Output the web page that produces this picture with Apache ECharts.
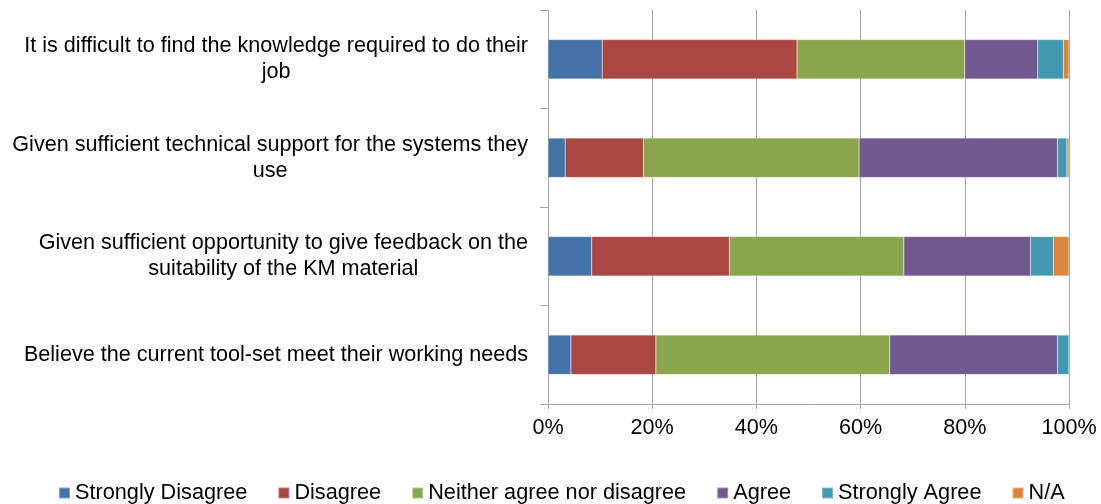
<!DOCTYPE html>
<html>
<head>
<meta charset="utf-8">
<script src="https://cdn.jsdelivr.net/npm/echarts@6/dist/echarts.min.js"></script>
<style>
  html, body { margin: 0; padding: 0; background: #fff; }
  #chart { width: 1101px; height: 504px; }
</style>
</head>
<body>
<div id="chart"></div>
<script>
// Survey statements (top to bottom)
const categories = [
  'It is difficult to find the knowledge required to do their\njob',
  'Given sufficient technical support for the systems they\nuse',
  'Given sufficient opportunity to give feedback on the\nsuitability of the KM material',
  'Believe the current tool-set meet their working needs'
];

// Share of responses (%) per statement
const stronglyDisagree = [10.4, 3.3, 8.4, 4.4];
const disagree         = [37.4, 15.0, 26.4, 16.3];
const neither          = [32.2, 41.4, 33.5, 44.9];
const agree            = [14.0, 38.1, 24.3, 32.2];
const stronglyAgree    = [4.9, 1.8, 4.4, 2.2];
const notApplicable    = [1.1, 0.4, 3.0, 0.0];

const seriesNames = ['Strongly Disagree', 'Disagree', 'Neither agree nor disagree', 'Agree', 'Strongly Agree', 'N/A'];
const seriesData = [stronglyDisagree, disagree, neither, agree, stronglyAgree, notApplicable];
const colors = ['#4572A7', '#AA4643', '#89A54E', '#71588F', '#4198AF', '#DB843D'];

const xTicks = [0, 20, 40, 60, 80, 100];

const FONT = '"Liberation Sans", Arial, sans-serif';
const AXIS_GREY = '#a6a6a6';
const LABEL_SIZE = 21.6;

const chart = echarts.init(document.getElementById('chart'), null, { renderer: 'canvas' });

chart.setOption({
  animation: false,
  backgroundColor: '#ffffff',
  color: colors,
  textStyle: { fontFamily: FONT },
  grid: { left: 548, right: 32, top: 10, bottom: 100, containLabel: false },
  legend: {
    left: 53,
    top: 477,
    icon: 'rect',
    itemWidth: 11,
    itemHeight: 11,
    itemGap: 30,
    textStyle: { fontFamily: FONT, fontSize: 21.7, color: '#000' },
    data: seriesNames
  },
  xAxis: {
    type: 'value',
    min: xTicks[0],
    max: xTicks[xTicks.length - 1],
    interval: 20,
    axisLine: { show: true, lineStyle: { color: AXIS_GREY, width: 1 } },
    axisTick: { show: true, length: 5, lineStyle: { color: AXIS_GREY } },
    splitLine: { show: true, lineStyle: { color: AXIS_GREY, width: 1 } },
    axisLabel: {
      formatter: '{value}%',
      fontFamily: FONT,
      fontSize: LABEL_SIZE,
      color: '#000',
      margin: 13
    }
  },
  yAxis: {
    type: 'category',
    inverse: true,
    data: categories,
    axisLine: { show: true, lineStyle: { color: AXIS_GREY, width: 1 } },
    axisTick: { show: true, length: 8, lineStyle: { color: AXIS_GREY } },
    splitLine: { show: false },
    axisLabel: {
      margin: 20,
      align: 'right',
      fontFamily: FONT,
      fontSize: LABEL_SIZE,
      color: '#000',
      formatter: function (v) {
        return v.split('\n').map(function (s) { return '{c|' + s + '}'; }).join('\n');
      },
      rich: {
        c: { align: 'center', fontFamily: FONT, fontSize: LABEL_SIZE, lineHeight: 26, color: '#000' }
      }
    }
  },
  series: seriesNames.map(function (name, i) {
    return {
      name: name,
      type: 'bar',
      stack: 'total',
      barWidth: '40%',
      data: seriesData[i],
      itemStyle: { color: colors[i], borderColor: 'rgba(255,255,255,0.35)', borderWidth: 0.5 }
    };
  })
});
</script>
</body>
</html>
